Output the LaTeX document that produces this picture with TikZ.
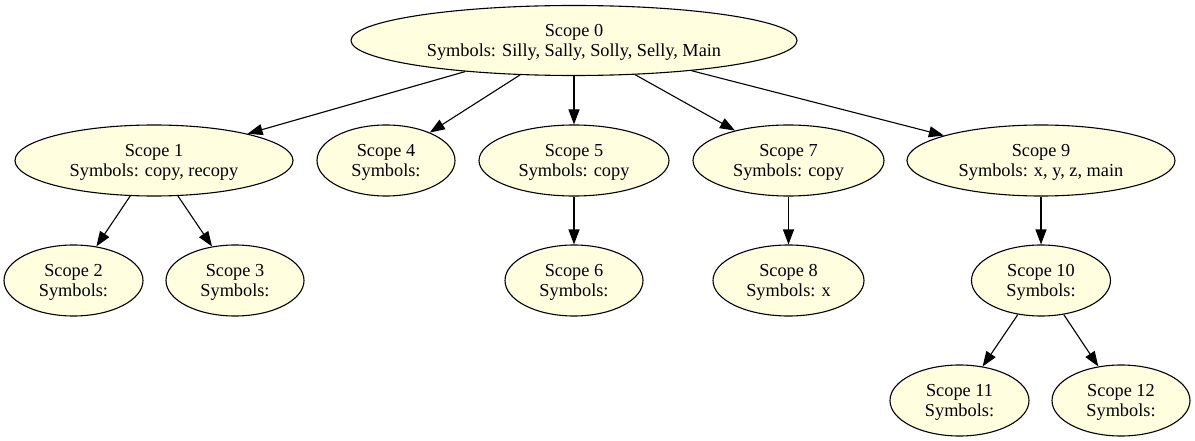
\documentclass[tikz,border=0pt]{standalone}
\usepackage{fontspec}
\setmainfont{Liberation Serif}
\usetikzlibrary{shapes.geometric,arrows.meta}
\definecolor{ly}{HTML}{FFFFE0}
\newcommand\twol[2]{\smash{\makebox[0pt]{\raisebox{-6.2pt}{\begin{tabular}{@{}c@{}}#1\\#2\end{tabular}}}}}
\begin{document}
\begin{tikzpicture}[x=1pt,y=-1pt,
  sc/.style={ellipse,draw=black,fill=ly,line width=1.1pt,inner sep=0pt,
    font=\fontsize{18.3}{20.5}\selectfont,minimum height=71pt},
  ed/.style={-{Triangle[length=15pt,width=11pt]},line width=1.1pt}]
\useasboundingbox (0,0) rectangle (1195,441);
\node[sc,minimum width=446pt,minimum height=70pt] (s0) at (574,40.5) {\twol{Scope 0}{Symbols: Silly, Sally, Solly, Selly, Main}};
\node[sc,minimum width=278pt] (s1) at (154,160.5) {\twol{Scope 1}{Symbols: copy, recopy}};
\node[sc,minimum width=138pt] (s4) at (386,160.5) {\twol{Scope 4}{Symbols:}};
\node[sc,minimum width=190pt] (s5) at (574,160.5) {\twol{Scope 5}{Symbols: copy}};
\node[sc,minimum width=191pt] (s7) at (788.5,160.5) {\twol{Scope 7}{Symbols: copy}};
\node[sc,minimum width=268pt] (s9) at (1041,160.5) {\twol{Scope 9}{Symbols: x, y, z, main}};
\node[sc,minimum width=139pt] (s2) at (73.5,280.5) {\twol{Scope 2}{Symbols:}};
\node[sc,minimum width=138pt] (s3) at (235,280.5) {\twol{Scope 3}{Symbols:}};
\node[sc,minimum width=138pt] (s6) at (574,280.5) {\twol{Scope 6}{Symbols:}};
\node[sc,minimum width=151pt] (s8) at (788.5,280.5) {\twol{Scope 8}{Symbols: x}};
\node[sc,minimum width=139pt] (s10) at (1041,280.5) {\twol{Scope 10}{Symbols:}};
\node[sc,minimum width=139pt] (s11) at (959.5,400.5) {\twol{Scope 11}{Symbols:}};
\node[sc,minimum width=138pt] (s12) at (1121,400.5) {\twol{Scope 12}{Symbols:}};
\draw[ed] (s0) -- (s1);
\draw[ed] (s0) -- (s4);
\draw[ed] (s0) -- (s5);
\draw[ed] (s0) -- (s7);
\draw[ed] (s0) -- (s9);
\draw[ed] (s1) -- (s2);
\draw[ed] (s1) -- (s3);
\draw[ed] (s5) -- (s6);
\draw[ed] (s7) -- (s8);
\draw[ed] (s9) -- (s10);
\draw[ed] (s10) -- (s11);
\draw[ed] (s10) -- (s12);
\end{tikzpicture}
\end{document}
